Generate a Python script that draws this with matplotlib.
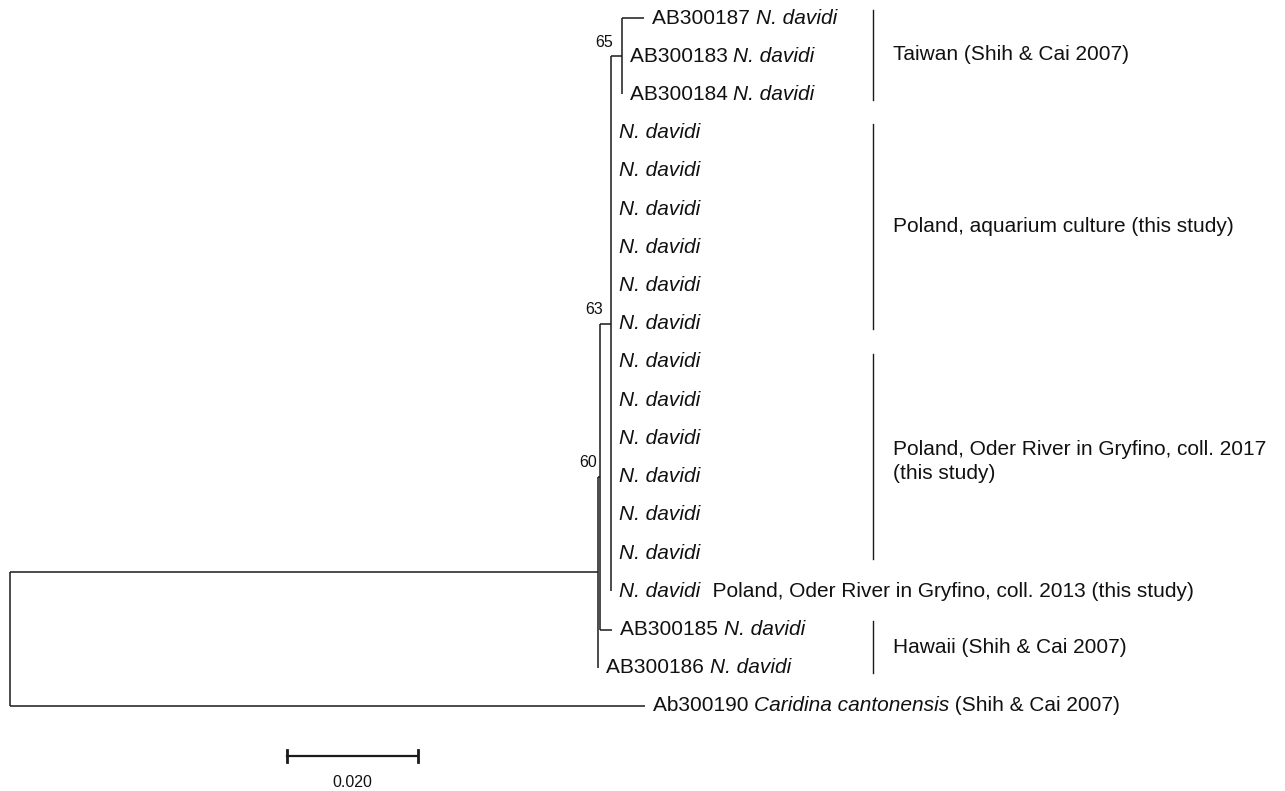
import matplotlib
matplotlib.use("Agg")
import matplotlib.pyplot as plt

plt.rcParams['font.family'] = ['Liberation Sans', 'DejaVu Sans']

# ---------------- data ----------------
# each leaf label is a list of (text, italic) pieces
leaf_labels = [
    [("AB300187 ", False), ("N. davidi", True)],
    [("AB300183 ", False), ("N. davidi", True)],
    [("AB300184 ", False), ("N. davidi", True)],
    [("N. davidi", True)], [("N. davidi", True)], [("N. davidi", True)],
    [("N. davidi", True)], [("N. davidi", True)], [("N. davidi", True)],
    [("N. davidi", True)], [("N. davidi", True)], [("N. davidi", True)],
    [("N. davidi", True)], [("N. davidi", True)], [("N. davidi", True)],
    [("N. davidi", True), ("  Poland, Oder River in Gryfino, coll. 2013 (this study)", False)],
    [("AB300185 ", False), ("N. davidi", True)],
    [("AB300186 ", False), ("N. davidi", True)],
    [("Ab300190 ", False), ("Caridina cantonensis", True), (" (Shih & Cai 2007)", False)],
]
leaf_parent = ["n65", "n65", "n65"] + ["nP"] * 13 + ["n63", "n60", "root"]
leaf_depth = [0.0968, 0.0934, 0.0934] + [0.0918] * 13 + [0.0919, 0.0898, 0.0969]

node_names = ["root", "n60", "n63", "nP", "n65"]
node_parent = [None, "root", "n60", "n63", "nP"]
node_depth = [0.0, 0.0898, 0.0901, 0.0918, 0.0934]
node_support = [None, None, "60", "63", "65"]

clade_labels = ["Taiwan (Shih & Cai 2007)",
                "Poland, aquarium culture (this study)",
                "Poland, Oder River in Gryfino, coll. 2017\n(this study)",
                "Hawaii (Shih & Cai 2007)"]
clade_first = [0, 3, 9, 16]
clade_last = [2, 8, 14, 17]

scale_length = 0.020
scale_label = "0.020"

# ---------------- layout ----------------
PX_PER_UNIT = 6550.0
ROW_PX = 38.22
W, H = 1285, 791
fig = plt.figure(figsize=(W / 100, H / 100), dpi=100)
ax = fig.add_axes([0, 0, 1, 1])
ax.set_xlim(-10 / PX_PER_UNIT, (W - 10) / PX_PER_UNIT)
ax.set_ylim((H - 18) / ROW_PX, -18 / ROW_PX)
ax.axis("off")

leaf_y = list(range(len(leaf_labels)))
children = {n: [] for n in node_names}
for i, p in enumerate(leaf_parent):
    children[p].append(("leaf", i))
for i, p in enumerate(node_parent):
    if p is not None:
        children[p].append(("node", node_names[i]))

node_y = {}

def get_y(kind, key):
    if kind == "leaf":
        return leaf_y[key]
    if key in node_y:
        return node_y[key]
    ys = [get_y(k, c) for k, c in children[key]]
    node_y[key] = (min(ys) + max(ys)) / 2
    return node_y[key]

get_y("node", "root")
depth_of = dict(zip(node_names, node_depth))

LW = 1.1
col = "#1a1a1a"
tcol = "#111111"
for n in node_names:
    ys = [get_y(k, c) for k, c in children[n]]
    ax.plot([depth_of[n], depth_of[n]], [min(ys), max(ys)], color=col, lw=LW,
            solid_capstyle="butt")
for i, p in enumerate(node_parent):
    if p is not None:
        n = node_names[i]
        ax.plot([depth_of[p], depth_of[n]], [node_y[n], node_y[n]], color=col, lw=LW,
                solid_capstyle="butt")
for i, p in enumerate(leaf_parent):
    if leaf_depth[i] > depth_of[p]:
        ax.plot([depth_of[p], leaf_depth[i]], [leaf_y[i], leaf_y[i]], color=col, lw=LW,
                solid_capstyle="butt")

# leaf labels (pieces chained one after the other)
FS = 15
for i, pieces in enumerate(leaf_labels):
    prev = None
    for txt, it in pieces:
        style = "italic" if it else "normal"
        if prev is None:
            prev = ax.annotate(txt, (leaf_depth[i], leaf_y[i]), xytext=(5.8, 0),
                               textcoords="offset points", ha="left", va="center",
                               fontsize=FS, color=tcol, fontstyle=style)
        else:
            prev = ax.annotate(txt, xy=(1, 0), xycoords=prev, ha="left", va="bottom",
                               fontsize=FS, color=tcol, fontstyle=style)

# support values
support_offsets = {"60": (-2.2, 10), "63": (-5.8, 10), "65": (-6.5, 10)}
for n, s in zip(node_names, node_support):
    if s is not None:
        ax.annotate(s, (depth_of[n], node_y[n]), xytext=support_offsets[s],
                    textcoords="offset points", ha="right", va="center",
                    fontsize=11.5, color=tcol)

# clade bars and labels
bar_x = (873 - 10) / PX_PER_UNIT
for lab, a, b in zip(clade_labels, clade_first, clade_last):
    y0, y1 = a - 0.22, b + 0.15
    ax.plot([bar_x, bar_x], [y0, y1], color=col, lw=1.0)
    ax.annotate(lab, (bar_x, (y0 + y1) / 2), xytext=(14.5, -4 if "\n" in lab else 0),
                textcoords="offset points", ha="left", va="center",
                fontsize=FS, color=tcol, linespacing=1.31)

# scale bar
sx0 = (287 - 10) / PX_PER_UNIT
sy = 19.31
ax.plot([sx0, sx0 + scale_length], [sy, sy], color=col, lw=1.6)
for xx in (sx0, sx0 + scale_length):
    ax.plot([xx, xx], [sy - 0.15, sy + 0.15], color=col, lw=2.0)
ax.text(sx0 + scale_length / 2, sy + 0.68, scale_label, ha="center", va="center",
        fontsize=11.5, color=tcol)

fig.savefig("out.png", dpi=100)
